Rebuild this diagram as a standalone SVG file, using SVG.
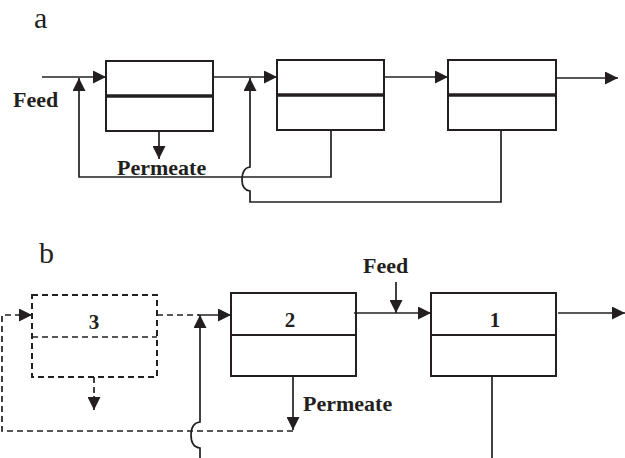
<svg xmlns="http://www.w3.org/2000/svg" width="625" height="458" viewBox="0 0 625 458">
<style>
.box{fill:#fff;stroke:#231f20;stroke-width:2}
.dbox{fill:none;stroke:#231f20;stroke-width:2;stroke-dasharray:6,4}
.div{stroke:#231f20;stroke-width:3.5}
.divt{stroke:#231f20;stroke-width:2}
.ln{fill:none;stroke:#231f20;stroke-width:1.7}
.dln{fill:none;stroke:#231f20;stroke-width:1.7;stroke-dasharray:6,4}
.lbl{font-family:"Liberation Serif","Times New Roman",serif;font-weight:bold;font-size:22px;fill:#231f20}
.num{font-family:"Liberation Serif","Times New Roman",serif;font-weight:bold;font-size:21px;fill:#231f20;text-anchor:middle}
.pan{font-family:"Liberation Serif","Times New Roman",serif;font-size:30px;fill:#231f20}
</style>
<defs>
<marker id="ah" markerUnits="userSpaceOnUse" markerWidth="14" markerHeight="13" refX="13" refY="6.5" orient="auto" viewBox="0 0 14 13">
<path d="M0,0 L13,6.5 L0,13 z" fill="#231f20"/>
</marker>
</defs>
<text class="pan" x="34" y="28">a</text>
<text class="pan" x="39" y="263">b</text>
<g id="a-box1">
<rect class="box" x="106" y="61" width="107" height="70"/>
<line class="div" x1="106" y1="96" x2="213" y2="96"/>
</g>
<g id="a-box2">
<rect class="box" x="277" y="60" width="107" height="70"/>
<line class="div" x1="277" y1="95" x2="384" y2="95"/>
</g>
<g id="a-box3">
<rect class="box" x="448" y="60" width="108" height="70"/>
<line class="div" x1="448" y1="95" x2="556" y2="95"/>
</g>
<g id="a-labels">
<text class="lbl" x="13" y="107">Feed</text>
<text class="lbl" x="117" y="175">Permeate</text>
</g>
<g id="b-box3">
<rect class="dbox" x="32" y="295" width="125" height="82"/>
<line class="dln" x1="32" y1="337" x2="157" y2="337"/>
<text class="num" x="94" y="329">3</text>
</g>
<g id="b-box2">
<rect class="box" x="231" y="293" width="125" height="83"/>
<line class="divt" x1="231" y1="335" x2="356" y2="335"/>
<text class="num" x="290" y="327">2</text>
</g>
<g id="b-box1">
<rect class="box" x="431" y="293" width="125" height="83"/>
<line class="divt" x1="431" y1="335" x2="556" y2="335"/>
<text class="num" x="495" y="327">1</text>
</g>
<g id="b-labels">
<text class="lbl" x="363" y="273">Feed</text>
<text class="lbl" x="303" y="411">Permeate</text>
</g>
<g id="connectors">
<!-- panel a -->
<line class="ln" x1="42" y1="77" x2="106" y2="77" marker-end="url(#ah)"/>
<path class="ln" d="M331,130 V177 H79 V78" marker-end="url(#ah)"/>
<line class="ln" x1="159" y1="131" x2="159" y2="159" marker-end="url(#ah)"/>
<line class="ln" x1="213" y1="77" x2="277" y2="77" marker-end="url(#ah)"/>
<path class="ln" d="M501,130 V202 H250 V191 Q242,190 242,180 Q242,168 250,167 V78" marker-end="url(#ah)"/>
<line class="ln" x1="384" y1="77" x2="448" y2="77" marker-end="url(#ah)"/>
<line class="ln" x1="556" y1="78" x2="618" y2="78" marker-end="url(#ah)"/>
<!-- panel b -->
<line class="dln" x1="157" y1="315" x2="199" y2="315"/>
<line class="ln" x1="198" y1="315" x2="231" y2="315" marker-end="url(#ah)"/>
<path class="ln" d="M200,458 V448 Q191,447 191,435 Q191,423 200,422 V315" marker-end="url(#ah)"/>
<line class="ln" x1="293" y1="376" x2="293" y2="430" marker-end="url(#ah)"/>
<path class="dln" d="M293,431 H2 V315 H20"/>
<line class="ln" x1="19" y1="315" x2="32" y2="315" marker-end="url(#ah)"/>
<line class="dln" x1="94" y1="377" x2="94" y2="398"/>
<line class="ln" x1="94" y1="396" x2="94" y2="410" marker-end="url(#ah)"/>
<line class="ln" x1="354" y1="313" x2="431" y2="313" marker-end="url(#ah)"/>
<line class="ln" x1="396" y1="282" x2="396" y2="313" marker-end="url(#ah)"/>
<line class="ln" x1="558" y1="313" x2="625" y2="313" marker-end="url(#ah)"/>
<line class="ln" x1="492" y1="376" x2="492" y2="458"/>
</g>
</svg>
